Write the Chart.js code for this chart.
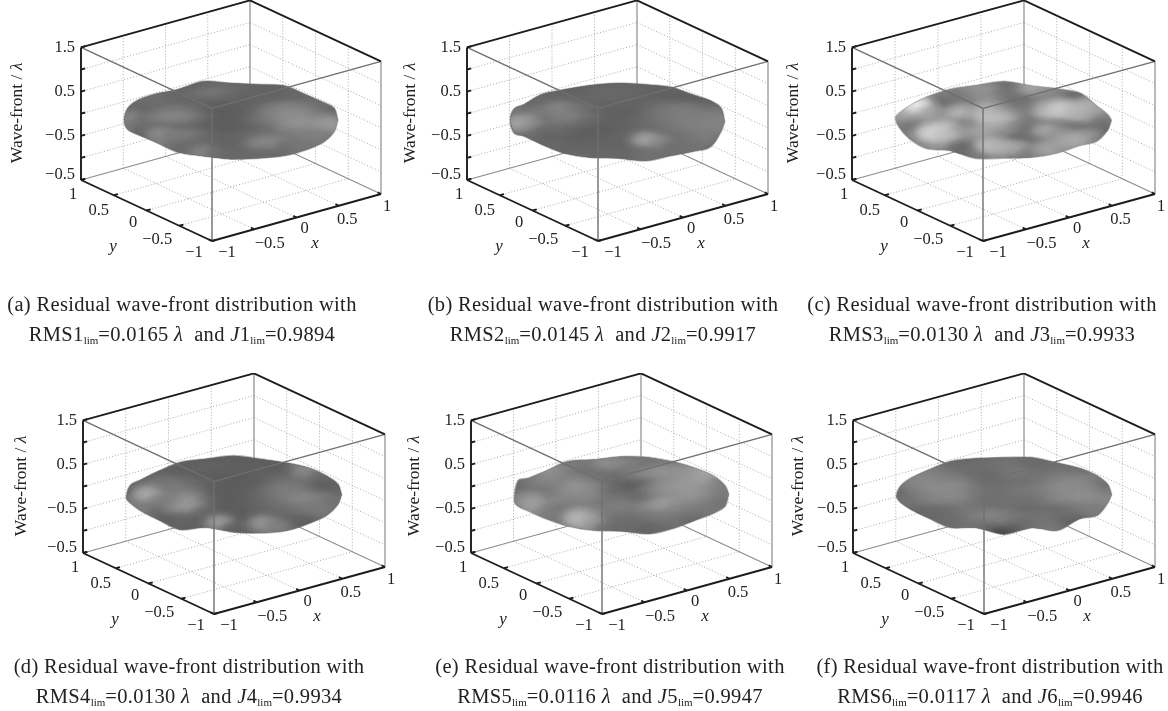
<!DOCTYPE html>
<html>
<head>
<meta charset="utf-8">
<title>Residual wave-front distribution</title>
<script src="https://cdn.jsdelivr.net/npm/chart.js@4/dist/chart.umd.js"></script>
<style>
  html, body { margin: 0; background: #fff; }
  #page { position: relative; width: 1168px; height: 711px; overflow: hidden; filter: blur(0.45px); }
  canvas { position: absolute; }
  .caption {
    position: absolute; width: 400px; text-align: center; white-space: pre;
    font: 20.5px/30px "Liberation Serif", serif; letter-spacing: 0.33px; color: #222;
  }
  .caption sub { font-size: 11px; line-height: 0; vertical-align: -3px; letter-spacing: 0; }
</style>
</head>
<body>
<div id="page"></div>
<script>
// axis ticks
const xTicks = [-1, -0.5, 0, 0.5, 1];
const yTicks = [-1, -0.5, 0, 0.5, 1];
const zTicks = [1.5, 1, 0.5, 0, -0.5, -1, -1.5];
const xTickLabels = ['\u22121', '\u22120.5', '0', '0.5', '1'];
const yTickLabels = ['\u22121', '\u22120.5', '0', '0.5', '1'];
const zTickLabels = ['1.5', '', '0.5', '', '\u22120.5', '', '\u22120.5'];

// caption values
const panelNames = ['(a)', '(b)', '(c)', '(d)', '(e)', '(f)'];
const rmsLimits = ['0.0165', '0.0145', '0.0130', '0.0130', '0.0116', '0.0117'];
const jLimits = ['0.9894', '0.9917', '0.9933', '0.9934', '0.9947', '0.9946'];

// rim height in 0.01 wavelengths, every 15 degrees counter-clockwise from the right end of the disc
const rimA = [2, 6, -2, -3, 4, -2, -2, 5, -5, -1, 4, 6, 0, 2, 11, 13, 4, 4, 0, -1, -4, -4, -5, -2];
const rimB = [-2, 6, 2, -3, 1, -2, -2, -4, -5, -2, -6, 4, 2, -5, 8, 8, 2, 1, 2, -7, -4, -8, -16, -2];
const rimC = [1, -9, -11, 1, -3, -5, 2, -4, -4, -7, -9, -5, 6, 8, 2, -2, 8, -1, 2, 1, 2, 5, -3, 1];
const rimD = [-2, -1, -4, -4, -6, -6, -1, -5, -4, -11, -12, -4, -10, 2, 5, 3, -6, 8, 0, -5, -8, -5, -5, -2];
const rimE = [-1, -4, -4, -5, -4, -2, -3, -7, -2, -10, -8, 7, -17, -6, 4, 5, 2, 1, 2, -7, -2, 3, 0, -6];
const rimF = [-2, -2, -3, -4, -6, -2, -5, -4, -2, -8, -8, -6, -6, 4, 8, 7, -1, 7, -5, 7, -8, 5, -6, 2];

// surface height in 0.01 wavelengths, rows run across the disc as seen in the view, far side first
const surfaceA = [
  [-6, -6, -6, -5, -5, -6, -7],
  [-3, -5, -5, -2, 0, -3, -6, -6, -6, -6, -5],
  [-4, -3, -5, -6, -6, -7, -7, -7, -6, -5, -4, -5, -3],
  [-8, -7, -2, 0, -1, -5, -8, -8, -7, -4, 2, 4, 3, -2, -8],
  [6, -3, 2, 4, 3, -3, -8, -8, -7, -2, 3, 6, 7, 4, 2],
  [0, -5, -5, -4, -6, -7, -8, -8, -7, -5, -2, 6, 8, 7, 10],
  [-9, 7, 1, 2, -2, -6, -6, -5, -3, -2, 0, 2, 2],
  [3, -3, -4, -4, -6, -6, -5, 4, 5, -3, -1],
  [-6, 4, -3, -5, -5, -4, -5]
];
const surfaceB = [
  [-7, -7, -6, -6, -6, -6, -7],
  [-5, -6, -6, -5, -4, -4, -5, -6, -7, -7, -8],
  [-5, -4, -4, -4, -5, -6, -6, -6, -6, -5, -5, -6, -9],
  [0, -4, 0, 5, 1, -3, -6, -7, -7, -5, -1, 1, 2, 0, -2],
  [-5, 4, -3, 2, 2, -3, -6, -7, -6, -4, -1, 1, 2, 2, 3],
  [14, 8, -4, -3, -5, -7, -8, -7, -6, -4, -3, 0, 2, 3, 3],
  [-3, -6, -6, -7, -7, -7, -6, -5, -4, -3, -3, -1, 1],
  [-5, -5, -6, -6, -6, -6, -5, 14, 6, -3, -2],
  [-5, -5, -5, -5, -6, -2, -3]
];
const surfaceC = [
  [5, 11, -1, -9, -3, 13, 15],
  [1, 3, -1, 7, 9, -1, -1, 13, 9, 3, -9],
  [11, -3, -5, -1, 3, 7, -1, -3, -3, 3, -5, -11, -1],
  [9, 17, 3, -7, -3, -3, 11, 3, -1, 1, 11, 15, 11, 17, 9],
  [13, 35, 15, 7, 19, 13, 19, 11, 5, -1, 17, 25, 19, 15, -1],
  [1, -3, -7, -5, 1, 3, 21, 19, 3, -3, -1, -7, -11, -9, -7],
  [3, 19, 23, 9, 9, 15, 7, -9, -3, 15, 9, 3, 7],
  [27, 21, -3, -7, 7, -1, -11, -5, 1, 11, 15],
  [-7, -1, 21, 17, 15, 1, 13]
];
const surfaceD = [
  [-8, -8, -8, -8, -8, -8, -8],
  [-7, -7, -7, -6, -6, -7, -7, -7, -8, -7, 4],
  [-6, -5, -7, -7, -8, -8, -8, -8, -7, -6, -6, 6, -4],
  [-6, -4, 0, 0, -3, -5, -8, -8, -8, -7, -2, -1, -2, -9, -7],
  [-8, 4, -2, 2, -1, -6, -8, -8, -7, -4, 0, 2, 0, -6, -5],
  [0, 16, 3, 2, 7, -3, -8, -8, -7, -5, -2, 2, 5, 3, -2],
  [2, -5, 4, 10, -3, -8, -8, -8, -6, -4, -3, 0, 0],
  [-7, -7, -5, -7, -8, -8, -8, -6, -5, -6, -8],
  [-7, -7, 12, -7, -7, 10, 2]
];
const surfaceE = [
  [1, 0, 3, -2, -3, -1, 2],
  [1, -2, 1, -1, 7, 5, 2, -2, -3, -1, 2],
  [-1, 9, 5, -2, -2, -2, -3, 0, 5, 9, 7, 9, 11],
  [-5, 1, 5, 3, 5, 0, -3, -6, -9, -5, 5, 8, 9, 13, 1],
  [-6, -1, -3, 4, 9, 6, -2, -5, -6, 1, 7, 9, 10, 7, 1],
  [5, 7, 0, 5, 4, 5, -1, 0, -3, -4, 5, 7, 9, 5, -2],
  [13, 3, -1, 0, 1, 0, 3, 1, 5, 11, 5, 2, -1],
  [1, -1, 11, 7, -2, -2, -3, -1, 1, -1, -5],
  [19, 11, -3, -5, -4, -7, -5]
];
const surfaceF = [
  [-5, -5, -4, -3, -3, -4, -5],
  [-1, -3, -4, -3, -3, -1, -2, -4, -3, -3, -4],
  [2, 3, 0, -1, -4, -4, -3, 1, -1, -2, 0, -1, -2],
  [0, 5, 5, 3, 3, -1, -4, -3, -2, -2, 1, 3, 5, 4, -4],
  [-6, 2, 6, 6, 6, 0, -1, -3, 0, 0, 3, 6, 6, 5, 0],
  [-2, -1, 3, 4, 5, 0, -3, -2, -2, -2, 0, 4, 6, 7, 4],
  [-6, -4, -4, -1, 0, -3, -2, -3, -4, -3, -4, -1, 1],
  [-5, -4, -3, 1, 4, 2, -1, -2, -1, -3, -7],
  [-4, -1, -6, -18, -10, -3, -1]
];

const rims = [rimA, rimB, rimC, rimD, rimE, rimF];
const surfaces = [surfaceA, surfaceB, surfaceC, surfaceD, surfaceE, surfaceF];

// page layout: front-bottom corner of each box, right edge of the box, offset of the z title
const frames = [
  { fx: 212, fy: 241, rx: 381, titleDx: -64, capX: 182, capY: 289 },
  { fx: 598, fy: 241, rx: 768, titleDx: -57, capX: 603, capY: 289 },
  { fx: 983, fy: 241, rx: 1155, titleDx: -59, capX: 982, capY: 289 },
  { fx: 214, fy: 614, rx: 385, titleDx: -62, capX: 189, capY: 651 },
  { fx: 602, fy: 614, rx: 772, titleDx: -57, capX: 610, capY: 651 },
  { fx: 984, fy: 614, rx: 1155, titleDx: -55, capX: 990, capY: 651 }
];

const CANVAS_W = 397, CANVAS_H = 285;
const FRONT_X = 212, FRONT_Y = 241;
const AZIMUTH = 37.6 * Math.PI / 180;
const SINK = 0.01;  // the height arrays are in 0.01 wavelengths

const gridStyle = { color: '#a8a8a8', width: 1, dash: [1, 2] };
const backStyle = { color: '#8c8c8c', width: 1.2, dash: [] };
const frontStyle = { color: '#6f6f6f', width: 1.4, dash: [] };
const axisStyle = { color: '#1c1c1c', width: 1.9, dash: [] };

function makeProjection(frame) {
  const ux = (frame.rx - frame.fx) / 2;
  return (x, y, z) => ({
    x: (x + 1) * ux - (y + 1) * 65.5,
    y: (x + 1) * 23.5 + (y + 1) * 30.5 + (z + 1.5) * 44.2
  });
}

function grayOf(z) {
  return Math.max(40, Math.min(240, Math.round(122 + 3.4 * z)));
}

const spriteCache = {};
function blobSprite(gray) {
  if (spriteCache[gray]) return spriteCache[gray];
  const c = document.createElement('canvas');
  c.width = 52;
  c.height = 30;
  const g = c.getContext('2d');
  g.translate(26, 15);
  g.scale(1, 15 / 26);
  const grad = g.createRadialGradient(0, 0, 0, 0, 0, 26);
  const col = a => 'rgba(' + gray + ',' + gray + ',' + gray + ',' + a + ')';
  grad.addColorStop(0, col(0.95));
  grad.addColorStop(0.35, col(0.66));
  grad.addColorStop(0.7, col(0.14));
  grad.addColorStop(1, col(0));
  g.fillStyle = grad;
  g.beginPath();
  g.arc(0, 0, 26, 0, Math.PI * 2);
  g.fill();
  spriteCache[gray] = c;
  return c;
}

function lineSet(points, style) {
  return {
    data: points, showLine: true, pointRadius: 0, fill: false, clip: false,
    borderColor: style.color, borderWidth: style.width, borderDash: style.dash
  };
}

function discPoint(project, a, b, z) {
  const x = a * Math.cos(AZIMUTH) + b * Math.sin(AZIMUTH);
  const y = -a * Math.sin(AZIMUTH) + b * Math.cos(AZIMUTH);
  return project(x, y, z * SINK);
}

function meanOf(rows) {
  const all = rows.flat();
  return all.reduce((sum, v) => sum + v, 0) / all.length;
}

function buildDatasets(index) {
  const project = makeProjection(frames[index]);
  const seg = (p, q, style) => lineSet([project(...p), project(...q)], style);
  const sets = [];

  // dotted grid on the two walls and the floor
  zTicks.slice(1, -1).forEach(z => {
    sets.push(seg([-1, 1, z], [1, 1, z], gridStyle));
    sets.push(seg([1, 1, z], [1, -1, z], gridStyle));
  });
  xTicks.slice(1, -1).forEach(x => {
    sets.push(seg([x, 1, -1.5], [x, 1, 1.5], gridStyle));
    sets.push(seg([x, -1, -1.5], [x, 1, -1.5], gridStyle));
  });
  yTicks.slice(1, -1).forEach(y => {
    sets.push(seg([1, y, -1.5], [1, y, 1.5], gridStyle));
    sets.push(seg([-1, y, -1.5], [1, y, -1.5], gridStyle));
  });

  // box edges behind the surface
  sets.push(seg([-1, 1, -1.5], [1, 1, -1.5], backStyle));
  sets.push(seg([1, -1, -1.5], [1, 1, -1.5], backStyle));
  sets.push(seg([1, 1, -1.5], [1, 1, 1.5], backStyle));
  sets.push(seg([1, -1, -1.5], [1, -1, 1.5], backStyle));

  // surface: filled rim, then soft patches for the heights
  const rim = rims[index].map((z, i) => {
    const t = i * 15 * Math.PI / 180;
    return discPoint(project, Math.cos(t), Math.sin(t), z);
  });
  rim.push(rim[0]);
  const base = grayOf(meanOf(surfaces[index]));
  sets.push({
    data: rim, showLine: true, pointRadius: 0, fill: 'shape', clip: false, tension: 0.35, isRim: true,
    backgroundColor: 'rgb(' + base + ',' + base + ',' + base + ')',
    borderColor: 'rgba(' + base + ',' + base + ',' + base + ',0.45)', borderWidth: 1.6
  });

  const pts = [], sprites = [];
  surfaces[index].forEach((row, r) => {
    row.forEach((z, c) => {
      const a = (c - (row.length - 1) / 2) / 7.5;
      const b = (4 - r) / 4.5;
      pts.push(discPoint(project, a, b, z));
      sprites.push(blobSprite(grayOf(z)));
    });
  });
  sets.push({ data: pts, showLine: false, pointStyle: sprites, pointRadius: 1, clip: false, isSurface: true });

  // box edges in front of the surface
  sets.push(seg([-1, -1, 1.5], [-1, 1, 1.5], frontStyle));
  sets.push(seg([-1, -1, 1.5], [1, -1, 1.5], frontStyle));
  sets.push(seg([-1, -1, 1.5], [-1, -1, -1.5], frontStyle));

  // dark outer axes
  sets.push(seg([-1, 1, 1.5], [1, 1, 1.5], axisStyle));
  sets.push(seg([1, 1, 1.5], [1, -1, 1.5], axisStyle));
  sets.push(seg([-1, 1, 1.5], [-1, 1, -1.5], axisStyle));
  sets.push(seg([-1, 1, -1.5], [-1, -1, -1.5], axisStyle));
  sets.push(seg([-1, -1, -1.5], [1, -1, -1.5], axisStyle));

  // tick marks
  zTicks.forEach(z => sets.push(seg([-1, 1, z], [-0.95, 1, z], axisStyle)));
  xTicks.forEach(x => sets.push(seg([x, -1, -1.5], [x, -0.95, -1.5], axisStyle)));
  yTicks.forEach(y => sets.push(seg([-1, y, -1.5], [-0.95, y, -1.5], axisStyle)));

  // chart.js paints the first dataset last
  return sets.reverse();
}

// keep the soft patches inside the rim
const rimClipPlugin = {
  id: 'rimClip',
  beforeDatasetDraw(chart, args) {
    if (!chart.data.datasets[args.index].isSurface) return;
    const rimIndex = chart.data.datasets.findIndex(d => d.isRim);
    const pts = chart.getDatasetMeta(rimIndex).data;
    const ctx = chart.ctx;
    ctx.save();
    ctx.beginPath();
    pts.forEach((p, i) => (i ? ctx.lineTo(p.x, p.y) : ctx.moveTo(p.x, p.y)));
    ctx.closePath();
    ctx.clip();
  },
  afterDatasetDraw(chart, args) {
    if (chart.data.datasets[args.index].isSurface) chart.ctx.restore();
  }
};

// label offsets from the tick position, same for every panel
const xLabelOffsets = [[15, 12], [15.5, 14], [8, 11.5], [8.5, 14], [6, 13]];
const yLabelOffsets = [[-18, 12], [-22, 14], [-13.5, 12], [-15, 15], [-8, 15]];
const zLabelNudge = [0, 0, 0, 0, 0, 0, -5];

function axisTextPlugin(index) {
  const frame = frames[index];
  const project = makeProjection(frame);
  return {
    id: 'axisText',
    afterDraw(chart) {
      const ctx = chart.ctx;
      const sx = chart.scales.x, sy = chart.scales.y;
      const at = p => [sx.getPixelForValue(p.x), sy.getPixelForValue(p.y)];
      ctx.save();
      ctx.fillStyle = '#222';
      ctx.textBaseline = 'middle';
      ctx.font = '16.5px "Liberation Serif"';
      ctx.textAlign = 'center';
      xTickLabels.forEach((t, i) => {
        const [px, py] = at(project(xTicks[i], -1, -1.5));
        ctx.fillText(t, px + xLabelOffsets[i][0], py + xLabelOffsets[i][1]);
      });
      yTickLabels.forEach((t, i) => {
        const [px, py] = at(project(-1, yTicks[i], -1.5));
        ctx.fillText(t, px + yLabelOffsets[i][0], py + yLabelOffsets[i][1]);
      });
      ctx.textAlign = 'right';
      zTickLabels.forEach((t, i) => {
        const [px, py] = at(project(-1, 1, zTicks[i]));
        ctx.fillText(t, px - 6, py + zLabelNudge[i]);
      });
      ctx.textAlign = 'center';
      ctx.font = 'italic 17px "Liberation Serif"';
      const [fx, fy] = at(project(-1, -1, -1.5));
      ctx.fillText('x', fx + 103, fy + 3);
      ctx.fillText('y', fx - 99, fy + 6);

      // rotated z title
      const [lx, ly] = at(project(-1, 1, 0));
      ctx.translate(lx + frame.titleDx, ly - 0.5);
      ctx.rotate(-Math.PI / 2);
      ctx.font = '17.5px "Liberation Serif"';
      const head = 'Wave-front / ';
      const w = ctx.measureText(head).width;
      ctx.textAlign = 'left';
      ctx.fillText(head, -50, 0);
      ctx.font = 'italic 17.5px "Liberation Serif"';
      ctx.fillText('\u03bb', -50 + w, 0);
      ctx.restore();
    }
  };
}

const page = document.getElementById('page');

frames.forEach((frame, i) => {
  const canvas = document.createElement('canvas');
  canvas.width = CANVAS_W;
  canvas.height = CANVAS_H;
  canvas.style.left = (frame.fx - FRONT_X) + 'px';
  canvas.style.top = (frame.fy - FRONT_Y) + 'px';
  page.appendChild(canvas);

  new Chart(canvas.getContext('2d'), {
    type: 'scatter',
    data: { datasets: buildDatasets(i) },
    options: {
      responsive: false,
      animation: false,
      events: [],
      layout: { padding: 0, autoPadding: false },
      plugins: { legend: { display: false }, tooltip: { enabled: false }, title: { display: false } },
      scales: {
        x: { type: 'linear', display: false, min: -FRONT_X, max: CANVAS_W - FRONT_X },
        y: { type: 'linear', display: false, min: FRONT_Y - CANVAS_H, max: FRONT_Y }
      }
    },
    plugins: [rimClipPlugin, axisTextPlugin(i)]
  });

  const cap = document.createElement('div');
  cap.className = 'caption';
  cap.style.left = (frame.capX - 200) + 'px';
  cap.style.top = frame.capY + 'px';
  const n = i + 1;
  cap.innerHTML = panelNames[i] + ' Residual wave-front distribution with\n' +
    'RMS' + n + '<sub>lim</sub>=' + rmsLimits[i] + ' <i>\u03bb</i>  and <i>J</i>' + n +
    '<sub>lim</sub>=' + jLimits[i];
  page.appendChild(cap);
});
</script>
</body>
</html>
